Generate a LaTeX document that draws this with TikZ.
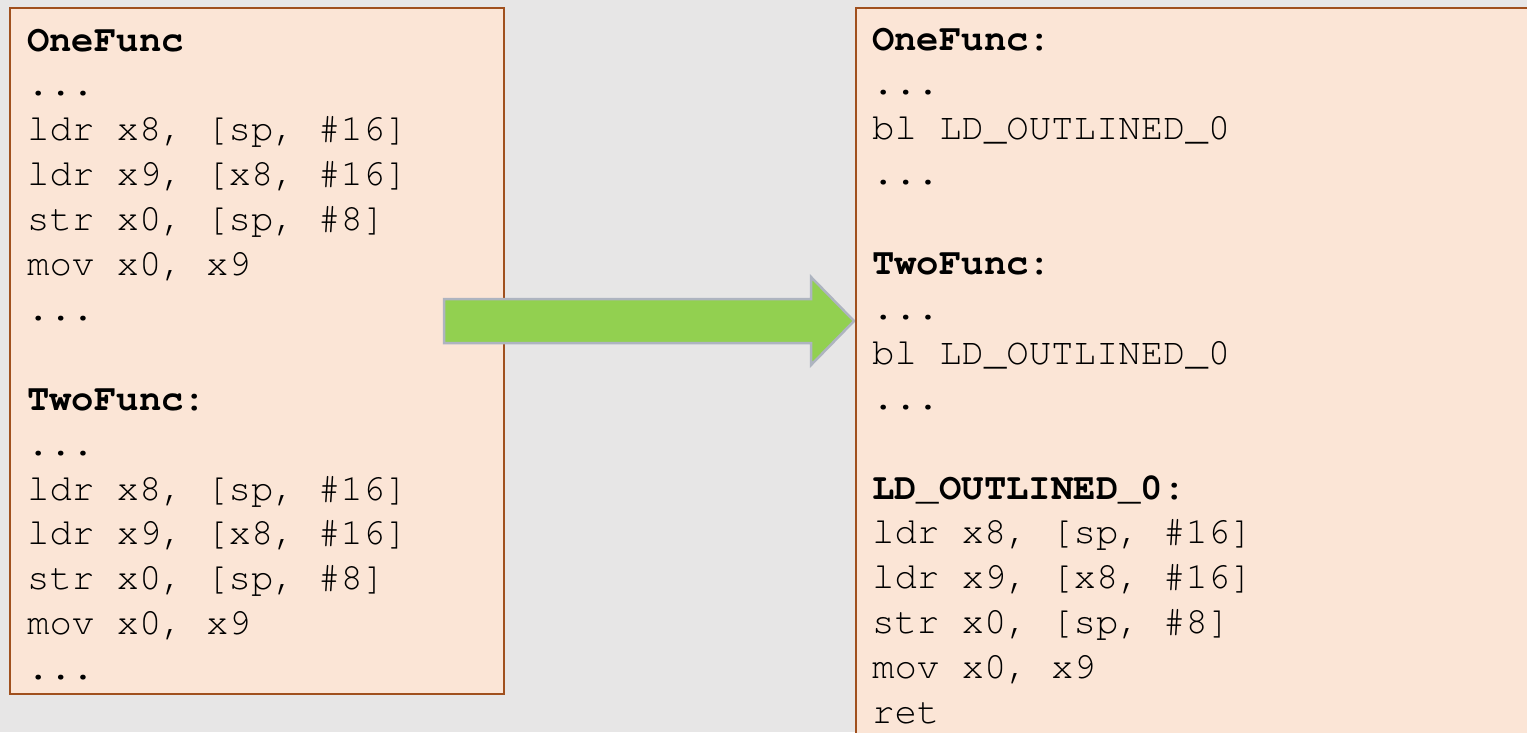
\documentclass[tikz,border=0pt]{standalone}
\usepackage{fontspec}
\setmonofont{TeX Gyre Cursor}
\definecolor{bgc}{HTML}{E7E6E6}
\definecolor{boxfill}{HTML}{FBE5D6}
\definecolor{boxline}{HTML}{A0501E}
\definecolor{arrfill}{HTML}{92D050}
\definecolor{arrline}{HTML}{AEB4C0}
\begin{document}
\begin{tikzpicture}[x=1pt,y=-1pt,
  codebox/.style={fill=boxfill,draw=boxline,line width=2pt},
  code/.style={anchor=base west,inner sep=0pt,font=\ttfamily\fontsize{37.3}{44.9}\selectfont,text=black},
  label/.style={code,font=\ttfamily\bfseries\fontsize{37.3}{44.9}\selectfont}]
\useasboundingbox (0,0) rectangle (1527,732);
\clip (0,0) rectangle (1527,732);
\fill[bgc] (0,0) rectangle (1527,732);
% left box
\draw[codebox] (10,8) rectangle (504,694);
\node[label] (l1) at (27,51) {OneFunc};
\node[code] (l2) at (27,95.9) {...};
\node[code] (l3) at (27,140.8) {ldr x8, [sp, \#16]};
\node[code] (l4) at (27,185.7) {ldr x9, [x8, \#16]};
\node[code] (l5) at (27,230.6) {str x0, [sp, \#8]};
\node[code] (l6) at (27,275.5) {mov x0, x9};
\node[code] (l7) at (27,320.4) {...};
\node[label] (l9) at (27,410.2) {TwoFunc:};
\node[code] (l10) at (27,455.1) {...};
\node[code] (l11) at (27,500) {ldr x8, [sp, \#16]};
\node[code] (l12) at (27,544.9) {ldr x9, [x8, \#16]};
\node[code] (l13) at (27,589.8) {str x0, [sp, \#8]};
\node[code] (l14) at (27,634.7) {mov x0, x9};
\node[code] (l15) at (27,679.6) {...};
% arrow
\coordinate (a1) at (444,299);
\coordinate (a2) at (811,299);
\coordinate (a3) at (811,277);
\coordinate (tip) at (854,321);
\coordinate (a5) at (811,365);
\coordinate (a6) at (811,343);
\coordinate (a7) at (444,343);
\draw[fill=arrfill,draw=arrline,line width=2.5pt,line join=miter] (a1) -- (a2) -- (a3) -- (tip) -- (a5) -- (a6) -- (a7) -- cycle;
% right box
\draw[codebox] (856,8) rectangle (1540,745);
\node[label] (r1) at (872,50) {OneFunc:};
\node[code] (r2) at (872,94.9) {...};
\node[code] (r3) at (872,139.8) {bl LD\_OUTLINED\_0};
\node[code] (r4) at (872,184.7) {...};
\node[label] (r6) at (872,274.5) {TwoFunc:};
\node[code] (r7) at (872,319.4) {...};
\node[code] (r8) at (872,364.3) {bl LD\_OUTLINED\_0};
\node[code] (r9) at (872,409.2) {...};
\node[label] (r11) at (872,499) {LD\_OUTLINED\_0:};
\node[code] (r12) at (872,543.9) {ldr x8, [sp, \#16]};
\node[code] (r13) at (872,588.8) {ldr x9, [x8, \#16]};
\node[code] (r14) at (872,633.7) {str x0, [sp, \#8]};
\node[code] (r15) at (872,678.6) {mov x0, x9};
\node[code] (r16) at (872,723.5) {ret};
\end{tikzpicture}
\end{document}
